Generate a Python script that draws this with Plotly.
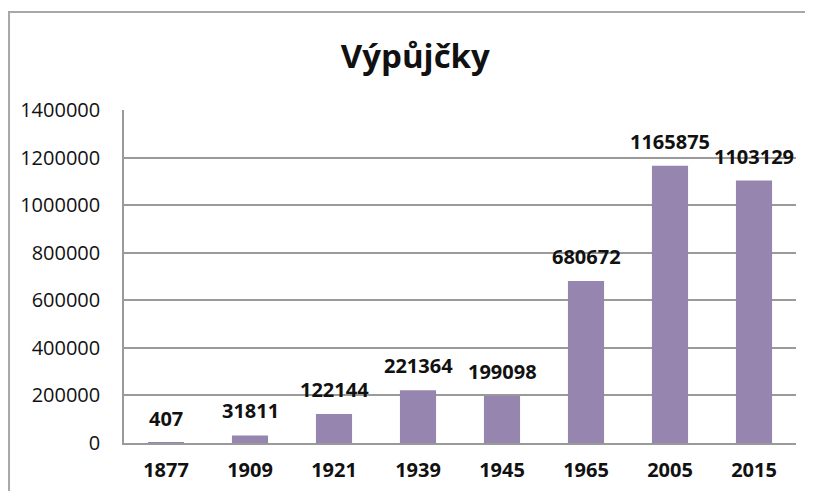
"""Bar chart of library loans (Výpůjčky) by year."""

import plotly.graph_objects as go

years = ["1877", "1909", "1921", "1939", "1945", "1965", "2005", "2015"]
loans = [407, 31811, 122144, 221364, 199098, 680672, 1165875, 1103129]
y_ticks = [0, 200000, 400000, 600000, 800000, 1000000, 1200000, 1400000]

FONT = "Open Sans, Liberation Sans, sans-serif"

fig = go.Figure()
fig.add_bar(
    x=years,
    y=loans,
    marker_color="#9685AE",
    marker_line_width=0,
)

# value labels sit a little higher above the bars than plotly's own bar text;
# on a category axis annotations take the category index as x
for i, value in enumerate(loans):
    fig.add_annotation(
        x=i,
        y=value,
        text=f"<b>{value}</b>",
        showarrow=False,
        yanchor="bottom",
        yshift=9,
        font=dict(family=FONT, size=20, color="#111111"),
    )

# the page body adds an 8px offset, so the figure is 8px smaller than the window
fig.update_layout(
    width=805,
    height=483,
    margin=dict(l=116, r=17, t=102, b=48),
    paper_bgcolor="white",
    plot_bgcolor="white",
    showlegend=False,
    bargap=0.57,
    title=dict(
        text="<b>Výpůjčky</b>",
        x=0.506,
        xanchor="center",
        y=0.9,
        yanchor="middle",
        font=dict(family=FONT, size=33, color="#111111"),
    ),
    font=dict(family=FONT, color="#111111"),
)
fig.update_yaxes(
    range=[0, 1400000],
    tickvals=y_ticks,
    tickformat="d",
    automargin=False,
    showgrid=True,
    gridcolor="#9A9A9A",
    gridwidth=1.5,
    showline=True,
    linecolor="#9A9A9A",
    linewidth=1.5,
    zeroline=False,
    ticklabelstandoff=18,
    tickfont=dict(size=20, family=FONT),
)
fig.update_xaxes(
    type="category",
    automargin=False,
    showline=True,
    linecolor="#9A9A9A",
    linewidth=1.5,
    ticklabelstandoff=8,
    tickfont=dict(size=20, family=FONT, weight="bold"),
)
# outer chart frame, partly cut off at right and bottom
fig.add_shape(
    type="rect",
    xref="paper",
    yref="paper",
    x0=-0.1711,
    x1=1.2,
    y0=-0.4,
    y1=1.294,
    line=dict(color="#A8A8A8", width=2),
    layer="below",
)

fig.write_html("out.html")
